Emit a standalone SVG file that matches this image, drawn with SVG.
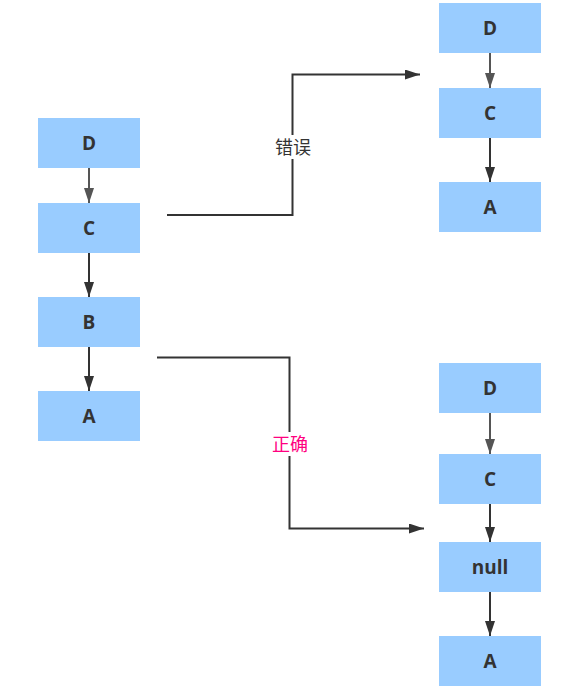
<svg xmlns="http://www.w3.org/2000/svg" width="584" height="694" viewBox="0 0 584 694">
  <style>
    .box rect { fill: #99ccff; }
    .box text { font-family: "Open Sans", "Liberation Sans", sans-serif; font-weight: bold; font-size: 19px; fill: #333333; text-anchor: middle; dominant-baseline: central; }
    .link { fill: none; stroke: #333333; stroke-width: 2; }
    .link.soft { stroke: #555555; }
    .lbl { font-family: "Noto Sans CJK SC", "Liberation Sans", sans-serif; font-size: 18px; text-anchor: middle; dominant-baseline: central; }
  </style>
  <defs>
    <marker id="headSoft" viewBox="0 0 15 10" refX="15" refY="5" markerWidth="15" markerHeight="10" markerUnits="userSpaceOnUse" orient="auto">
      <path d="M0,0 L15,5 L0,10 Z" fill="#555555"/>
    </marker>
    <marker id="headLong" viewBox="0 0 15 10" refX="15" refY="5" markerWidth="15" markerHeight="10" markerUnits="userSpaceOnUse" orient="auto">
      <path d="M0,0 L15,5 L0,10 Z" fill="#333333"/>
    </marker>
  </defs>

  <!-- left chain -->
  <g id="l-d" class="box"><rect x="38" y="118" width="102" height="50"/><text x="89" y="143">D</text></g>
  <g id="l-c" class="box"><rect x="38" y="203" width="102" height="50"/><text x="89" y="228">C</text></g>
  <g id="l-b" class="box"><rect x="38" y="297" width="102" height="50"/><text x="89" y="322">B</text></g>
  <g id="l-a" class="box"><rect x="38" y="391" width="102" height="50"/><text x="89" y="416">A</text></g>

  <!-- top right chain -->
  <g id="t-d" class="box"><rect x="439" y="3" width="102" height="50"/><text x="490" y="28">D</text></g>
  <g id="t-c" class="box"><rect x="439" y="88" width="102" height="50"/><text x="490" y="113">C</text></g>
  <g id="t-a" class="box"><rect x="439" y="182" width="102" height="50"/><text x="490" y="207">A</text></g>

  <!-- bottom right chain -->
  <g id="b-d" class="box"><rect x="439" y="363" width="102" height="50"/><text x="490" y="388">D</text></g>
  <g id="b-c" class="box"><rect x="439" y="454" width="102" height="50"/><text x="490" y="479">C</text></g>
  <g id="b-null" class="box"><rect x="439" y="542" width="102" height="50"/><text x="490" y="567">null</text></g>
  <g id="b-a" class="box"><rect x="439" y="636" width="102" height="50"/><text x="490" y="661">A</text></g>

  <g id="connectors">
    <line class="link soft" x1="89" y1="168" x2="89" y2="203" marker-end="url(#headSoft)"/>
    <line class="link" x1="89" y1="253" x2="89" y2="297" marker-end="url(#headLong)"/>
    <line class="link" x1="89" y1="347" x2="89" y2="391" marker-end="url(#headLong)"/>

    <line class="link soft" x1="490" y1="53" x2="490" y2="88" marker-end="url(#headSoft)"/>
    <line class="link" x1="490" y1="138" x2="490" y2="182" marker-end="url(#headLong)"/>

    <line class="link soft" x1="490" y1="413" x2="490" y2="454" marker-end="url(#headSoft)"/>
    <line class="link" x1="490" y1="504" x2="490" y2="542" marker-end="url(#headLong)"/>
    <line class="link" x1="490" y1="592" x2="490" y2="636" marker-end="url(#headLong)"/>

    <polyline class="link" points="167,215 292.5,215 292.5,74.5 420,74.5" marker-end="url(#headLong)"/>
    <polyline class="link" points="157,357.5 289.5,357.5 289.5,528.5 424,528.5" marker-end="url(#headLong)"/>

    <rect x="272" y="135" width="42" height="24" fill="#ffffff"/>
    <text class="lbl" x="293" y="146" fill="#333333">错误</text>
    <rect x="269" y="432" width="42" height="24" fill="#ffffff"/>
    <text class="lbl" x="290" y="443" fill="#ff0080">正确</text>
  </g>
</svg>
